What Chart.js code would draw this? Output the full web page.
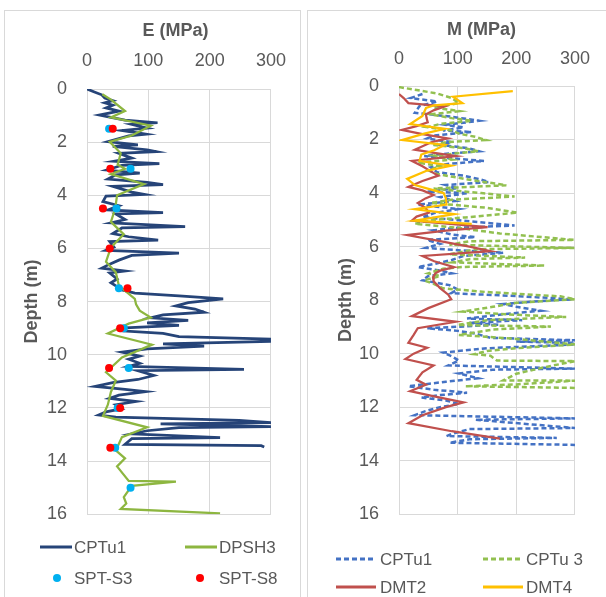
<!DOCTYPE html>
<html><head><meta charset="utf-8">
<script src="https://cdn.jsdelivr.net/npm/chart.js@4.4.0/dist/chart.umd.min.js"></script>
<style>
html,body{margin:0;padding:0;background:#fff;}
body{width:606px;height:597px;position:relative;overflow:hidden;font-family:"Liberation Sans",Arial,sans-serif;color:#595959;}
.panel{position:absolute;border:1px solid #d9d9d9;box-sizing:border-box;}
#p1{left:4px;top:10px;width:297px;height:600px;}
#p2{left:307px;top:10px;width:300px;height:600px;}
canvas{position:absolute;top:0;}
.title{position:absolute;font-weight:bold;font-size:18px;transform:translate(-50%,-50%);white-space:nowrap;line-height:1;}
.lg{position:absolute;font-size:17px;transform:translateY(-50%);white-space:nowrap;line-height:1;}
.ln{position:absolute;height:3px;transform:translateY(-50%);}
.dot{position:absolute;width:8px;height:8px;border-radius:50%;transform:translate(-50%,-50%);}
</style>
</head><body>
<div class="panel" id="p1"></div>
<div class="panel" id="p2"></div>
<canvas id="c1" width="303" height="545" style="left:0;width:303px;height:545px;"></canvas>
<canvas id="c2" width="300" height="545" style="left:306px;width:300px;height:545px;"></canvas>

<div class="title" style="left:175.5px;top:30px;">E (MPa)</div>
<div class="title" style="left:481.5px;top:29px;">M (MPa)</div>

<div class="ln" style="left:40px;top:547px;width:32px;background:#264478;"></div>
<div class="lg" style="left:74px;top:547px;">CPTu1</div>
<div class="ln" style="left:185px;top:547px;width:32px;background:#8DB640;"></div>
<div class="lg" style="left:219px;top:547px;">DPSH3</div>
<div class="dot" style="left:57px;top:578px;background:#00B0F0;"></div>
<div class="lg" style="left:74px;top:578px;">SPT-S3</div>
<div class="dot" style="left:200px;top:578px;background:#FF0000;"></div>
<div class="lg" style="left:219px;top:578px;">SPT-S8</div>

<div class="ln" style="left:336px;top:559px;width:40px;background:repeating-linear-gradient(90deg,#4472C4 0 5px,transparent 5px 8px);"></div>
<div class="lg" style="left:380px;top:559px;">CPTu1</div>
<div class="ln" style="left:483px;top:559px;width:40px;background:repeating-linear-gradient(90deg,#92C050 0 5px,transparent 5px 8px);"></div>
<div class="lg" style="left:526px;top:559px;">CPTu 3</div>
<div class="ln" style="left:336px;top:587px;width:40px;background:#C0504D;"></div>
<div class="lg" style="left:380px;top:587px;">DMT2</div>
<div class="ln" style="left:483px;top:587px;width:40px;background:#FFC000;"></div>
<div class="lg" style="left:526px;top:587px;">DMT4</div>

<script>
// ---- tick labels ----
const xTicks = [0, 100, 200, 300];
const yTicks = [0, 2, 4, 6, 8, 10, 12, 14, 16];

// ---- left panel: E (MPa) vs depth (m); pairs are [depth, E] ----
const CPTu1_E = [
 [0.00,0],[0.10,11],[0.22,24],[0.34,29],[0.44,42],[0.52,29],[0.61,42],[0.71,31],[0.83,52],[0.98,20],
 [1.07,39],[1.17,62],[1.27,115],[1.33,73],[1.47,98],[1.56,57],[1.70,96],[1.76,68],[1.98,34],[2.10,83],
 [2.16,42],[2.29,98],[2.36,113],[2.42,52],[2.60,73],[2.72,44],[2.81,118],[2.87,57],[3.05,32],[3.17,86],
 [3.23,47],[3.39,34],[3.51,98],[3.60,124],[3.66,42],[3.88,73],[3.97,94],[4.03,31],[4.24,26],[4.39,52],
 [4.55,34],[4.65,124],[4.70,47],[4.91,62],[5.04,39],[5.18,160],[5.23,57],[5.44,42],[5.56,68],[5.69,116],
 [5.74,37],[5.95,44],[6.07,31],[6.18,150],[6.26,73],[6.44,52],[6.59,37],[6.74,24],[6.85,62],[6.92,37],
 [7.15,49],[7.29,39],[7.41,47],[7.56,57],[7.68,78],[7.78,150],[7.90,222],[8.04,165],[8.16,145],[8.28,176],
 [8.40,191],[8.50,124],[8.61,104],[8.71,165],[8.80,98],[8.89,150],[8.99,62],[9.10,57],[9.20,124],[9.32,150],
 [9.41,300],[9.50,300],[9.59,124],[9.68,191],[9.78,98],[9.90,57],[10.05,86],[10.17,68],[10.32,86],[10.44,68],
 [10.55,256],[10.60,83],[10.78,109],[10.93,83],[11.05,42],[11.19,13],[11.30,62],[11.39,96],[11.52,52],[11.64,37],
 [11.76,80],[11.88,47],[12.03,57],[12.15,31],[12.27,19],[12.35,47],[12.47,248],[12.55,300],[12.60,120],[12.70,300],
 [12.74,150],[12.86,98],[12.98,73],[13.12,217],[13.16,73],[13.37,62],[13.42,284],[13.47,289]
];
const DPSH3_E = [
 [0.20,25],[0.40,39],[0.83,62],[1.07,39],[1.38,104],[1.75,73],[1.99,37],[2.42,55],[2.85,50],[3.00,62],
 [3.20,39],[3.58,93],[4.00,49],[4.50,46],[5.00,39],[5.47,60],[5.96,39],[6.50,31],[6.90,47],[7.40,52],
 [7.90,78],[8.10,80],[8.34,86],[8.60,104],[8.83,68],[9.20,34],[9.62,106],[10.10,57],[10.66,31],[10.97,47],
 [11.40,39],[11.88,34],[12.30,26],[12.73,98],[13.10,57],[13.60,47],[13.90,62],[14.20,49],[14.75,68],[14.77,145],
 [14.93,73],[15.36,60],[15.60,64],[15.80,55],[15.97,217]
];
const SPT_S3 = [[1.5,36],[3.0,71],[4.5,48],[7.5,52],[9.0,60],[10.5,68],[12.0,50],[13.5,46],[15.0,71]];
const SPT_S8 = [[1.5,42],[3.0,38],[4.5,26],[6.0,37],[7.5,66],[9.0,54],[10.5,36],[12.0,54],[13.5,38]];

// ---- right panel: M (MPa) vs depth (m); pairs are [depth, M] ----
const CPTu1_M = [
 [0.30,40],[0.45,20],[0.58,65],[0.75,35],[1.00,27],[1.15,90],[1.30,137],[1.45,80],[1.55,110],[1.66,75],
 [1.72,124],[1.85,60],[1.96,48],[2.10,90],[2.20,70],[2.32,118],[2.44,137],[2.55,70],[2.62,43],[2.72,100],
 [2.80,145],[2.92,80],[3.04,54],[3.22,65],[3.35,110],[3.50,140],[3.59,153],[3.70,80],[3.82,100],[3.95,48],
 [4.00,118],[4.15,70],[4.30,95],[4.43,32],[4.60,102],[4.75,60],[4.90,40],[5.05,120],[5.21,197],[5.30,100],
 [5.39,59],[5.55,90],[5.65,130],[5.75,48],[5.90,70],[6.05,46],[6.15,110],[6.23,178],[6.35,110],[6.50,90],
 [6.65,60],[6.77,32],[6.90,70],[7.00,90],[7.10,50],[7.26,40],[7.44,86],[7.60,100],[7.74,89],[7.85,200],
 [7.97,296],[8.05,230],[8.15,178],[8.25,200],[8.40,242],[8.50,190],[8.60,150],[8.69,116],[8.75,210],[8.85,120],
 [8.92,170],[9.05,48],[9.15,100],[9.25,130],[9.41,156],[9.50,300],[9.55,200],[9.60,300],[9.66,296],[9.80,150],
 [9.96,75],[10.10,90],[10.26,102],[10.44,84],[10.56,300],[10.60,160],[10.74,102],[10.92,135],[11.05,80],[11.22,16],
 [11.35,60],[11.46,116],[11.55,70],[11.64,38],[11.75,80],[11.88,102],[12.00,70],[12.15,45],[12.30,27],[12.42,300],
 [12.47,130],[12.78,300],[12.82,120],[13.00,90],[13.08,81],[13.15,269],[13.20,120],[13.33,86],[13.41,300]
];
const CPTu3_M = [
 [0.04,0],[0.15,30],[0.28,65],[0.45,90],[0.64,102],[0.80,60],[0.94,102],[1.06,54],[1.20,90],[1.30,124],
 [1.42,70],[1.54,48],[1.66,90],[1.78,102],[1.90,130],[2.02,148],[2.10,80],[2.20,56],[2.32,110],[2.44,135],
 [2.60,60],[2.75,90],[2.86,32],[3.00,70],[3.15,50],[3.29,65],[3.50,120],[3.71,183],[3.83,59],[4.00,140],
 [4.13,197],[4.25,90],[4.37,54],[4.55,150],[4.73,202],[4.91,113],[5.00,60],[5.15,27],[5.30,100],[5.51,172],
 [5.75,299],[5.80,120],[5.93,86],[6.05,299],[6.10,130],[6.29,86],[6.41,215],[6.47,120],[6.59,92],[6.71,248],
 [6.76,110],[6.83,75],[7.00,50],[7.10,70],[7.26,43],[7.40,60],[7.56,75],[7.70,150],[7.86,275],[7.97,300],
 [8.10,200],[8.25,160],[8.43,108],[8.55,200],[8.63,285],[8.75,150],[8.93,100],[8.99,259],[9.10,160],[9.30,102],
 [9.45,200],[9.66,300],[9.80,200],[9.90,150],[10.02,129],[10.08,156],[10.26,167],[10.28,300],[10.50,250],[10.75,200],
 [11.00,178],[11.01,300],[11.15,200],[11.22,113],[11.28,300]
];
const DMT2_M = [
 [0.30,0],[0.45,8],[0.64,16],[0.76,78],[0.90,60],[1.06,46],[1.20,47],[1.36,49],[1.50,30],[1.64,5],
 [1.80,40],[1.96,83],[2.10,55],[2.38,27],[2.50,60],[2.62,97],[2.80,22],[3.00,40],[3.20,55],[3.35,67],
 [3.55,40],[3.77,16],[3.90,40],[4.07,59],[4.20,45],[4.37,32],[4.55,45],[4.73,51],[4.88,30],[5.03,22],
 [5.27,151],[5.40,80],[5.57,14],[5.80,70],[6.00,120],[6.17,156],[6.35,40],[6.55,60],[6.77,94],[6.90,70],
 [7.00,62],[7.15,58],[7.30,59],[7.55,70],[7.80,84],[7.97,89],[8.30,50],[8.60,22],[8.81,97],[9.05,32],
 [9.30,25],[9.60,16],[9.78,48],[10.00,25],[10.20,11],[10.44,59],[10.70,40],[10.98,30],[11.16,46],[11.40,19],
 [11.60,60],[11.82,110],[12.00,80],[12.30,40],[12.60,16],[12.90,90],[13.18,172]
];
const DMT4_M = [
 [0.19,194],[0.40,92],[0.64,108],[0.72,60],[0.82,46],[1.12,40],[1.42,19],[1.60,78],[1.78,43],[2.02,5],
 [2.20,78],[2.40,60],[2.56,38],[2.80,35],[2.98,89],[3.16,48],[3.47,14],[3.70,27],[4.00,76],[4.20,80],
 [4.43,81],[4.60,27],[4.79,94],[5.03,27],[5.15,124]
];

const FONT = '"Liberation Sans", Arial, sans-serif';
const GREY = '#595959';
const GRID = '#d9d9d9';
const pts = arr => arr.map(p => ({x: p[1], y: p[0]}));

function lineSet(label, arr, color, width, dash, order) {
  return {label, data: pts(arr), showLine: true, borderColor: color, backgroundColor: color,
          borderWidth: width, borderDash: dash, pointRadius: 0, pointHoverRadius: 0, order, tension: 0};
}
function dotSet(label, arr, color, order) {
  return {label, data: pts(arr), showLine: false, borderColor: color, backgroundColor: color,
          pointRadius: 4, borderWidth: 0, order};
}

function makeChart(id, datasets, g) {
  return new Chart(document.getElementById(id), {
    type: 'scatter',
    data: {datasets},
    options: {
      responsive: false, animation: false, devicePixelRatio: 1,
      layout: {padding: {left: 0, top: 0, right: g.padR, bottom: g.padB}},
      plugins: {legend: {display: false}, title: {display: false}, tooltip: {enabled: false}},
      events: [],
      scales: {
        x: {
          type: 'linear', position: 'top', min: 0, max: 300,
          afterBuildTicks: s => { s.ticks = xTicks.map(v => ({value: v})); },
          afterFit: s => { s.height = g.top; },
          ticks: {padding: g.xPad, color: GREY, font: {family: FONT, size: 18}},
          grid: {color: GRID, drawTicks: false, lineWidth: 1},
          border: {color: GRID}
        },
        y: {
          type: 'linear', reverse: true, min: 0, max: 16,
          afterBuildTicks: s => { s.ticks = yTicks.map(v => ({value: v})); },
          afterFit: s => { s.width = g.left; },
          ticks: {padding: 20, color: GREY, font: {family: FONT, size: 18}},
          grid: {color: GRID, drawTicks: false, lineWidth: 1},
          border: {color: GRID},
          title: {display: true, text: 'Depth (m)', color: GREY, font: {family: FONT, size: 18, weight: 'bold'},
                  padding: {top: g.yTitlePad, bottom: 0}}
        }
      }
    }
  });
}

makeChart('c1', [
  dotSet('SPT-S8', SPT_S8, '#FF0000', 0),
  dotSet('SPT-S3', SPT_S3, '#00B0F0', 1),
  lineSet('DPSH3', DPSH3_E, '#8DB640', 2.25, [], 2),
  lineSet('CPTu1', CPTu1_E, '#264478', 2.75, [], 3)
], {left: 87, top: 89, padR: 22, padB: 20, xPad: 17, yTitlePad: 21});

makeChart('c2', [
  lineSet('DMT4', DMT4_M, '#FFC000', 2.25, [], 0),
  lineSet('DMT2', DMT2_M, '#C0504D', 2.25, [], 1),
  lineSet('CPTu 3', CPTu3_M, '#92C050', 2.5, [5, 3], 2),
  lineSet('CPTu1', CPTu1_M, '#4472C4', 2.5, [5, 3], 3)
], {left: 93, top: 86, padR: 21, padB: 16, xPad: 16, yTitlePad: 29});
</script>
</body></html>
